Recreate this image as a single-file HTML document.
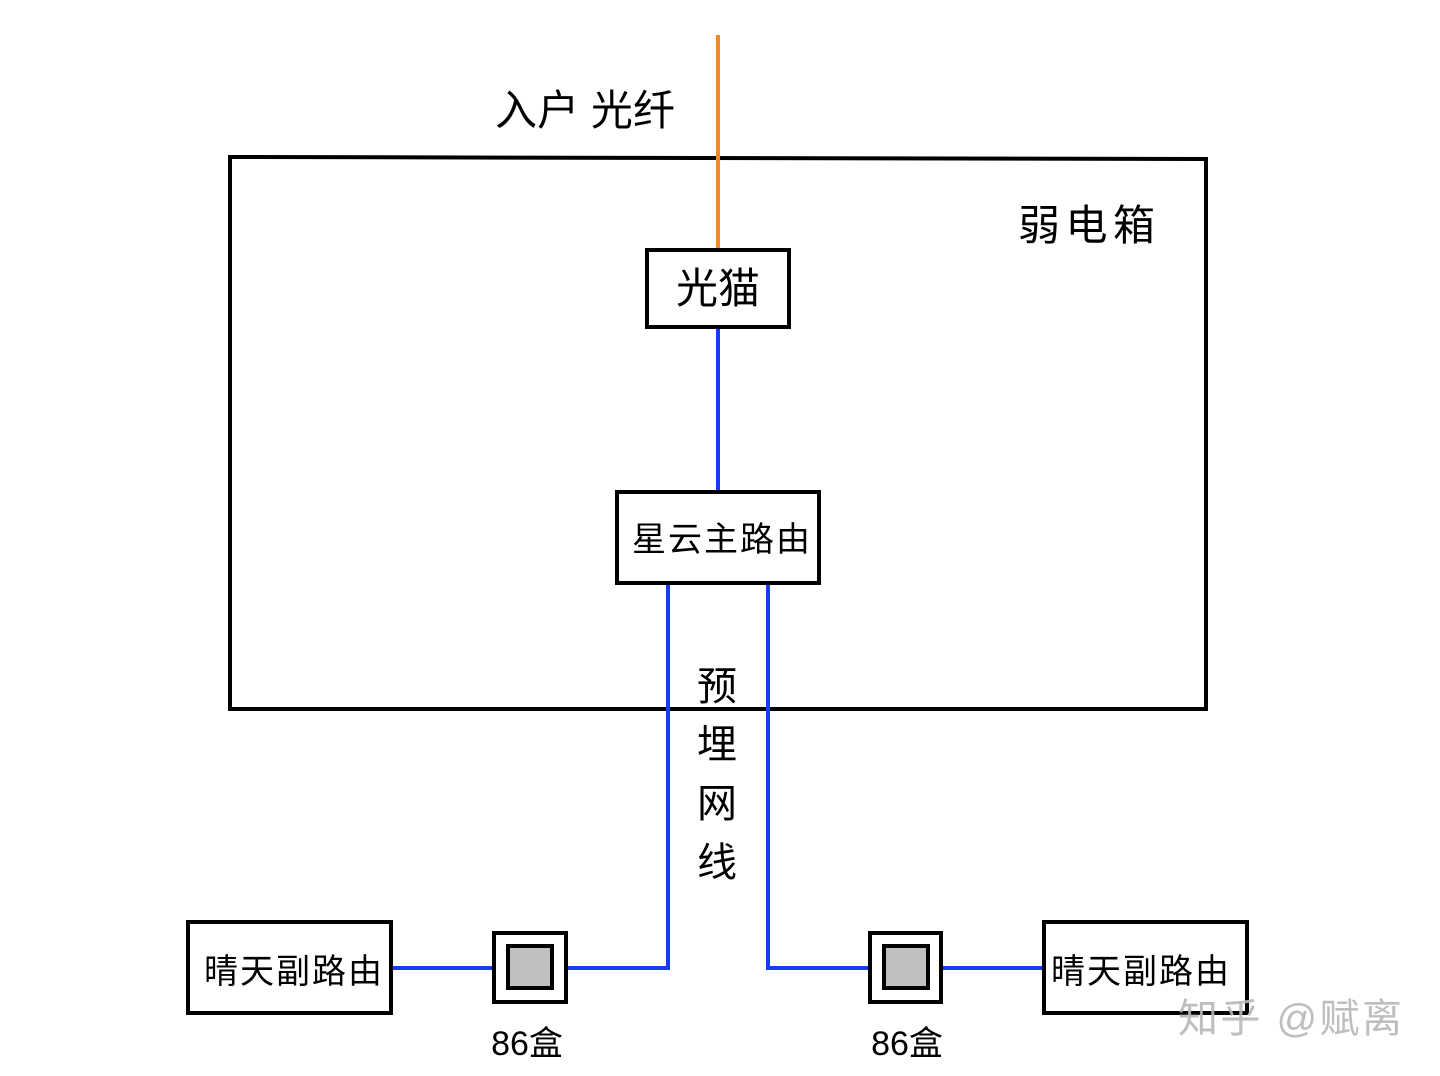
<!DOCTYPE html>
<html><head><meta charset="utf-8"><style>
html,body{margin:0;padding:0;background:#fff;width:1440px;height:1076px;overflow:hidden}
text{font-family:"Liberation Sans","Noto Sans CJK SC",sans-serif;fill:#000}
</style></head><body>
<svg width="1440" height="1076" xmlns="http://www.w3.org/2000/svg">
<rect x="0" y="0" width="1440" height="1076" fill="#fff"/>
<polygon points="230,157 1206,159 1206,709 230,709" fill="none" stroke="#000" stroke-width="4"/>
<line x1="718" y1="35" x2="718" y2="250" stroke="#f08a24" stroke-width="4"/>
<line x1="718" y1="327" x2="718" y2="492" stroke="#1a3cf0" stroke-width="4"/>
<polyline points="668,583 668,968 567,968" fill="none" stroke="#1a3cf0" stroke-width="4"/>
<polyline points="768,583 768,968 870,968" fill="none" stroke="#1a3cf0" stroke-width="4"/>
<line x1="391" y1="968" x2="494" y2="968" stroke="#1a3cf0" stroke-width="4"/>
<line x1="941" y1="968" x2="1044" y2="968" stroke="#1a3cf0" stroke-width="4"/>
<rect x="647" y="250" width="142" height="77" fill="#fff" stroke="#000" stroke-width="4"/>
<rect x="617" y="492" width="202" height="91" fill="#fff" stroke="#000" stroke-width="4"/>
<rect x="188" y="922" width="203" height="91" fill="#fff" stroke="#000" stroke-width="4"/>
<rect x="1044" y="922" width="203" height="91" fill="#fff" stroke="#000" stroke-width="4"/>
<rect x="494" y="933" width="72" height="69" fill="#fff" stroke="#000" stroke-width="4"/>
<rect x="508" y="946" width="44" height="42" fill="#c0c0c0" stroke="#000" stroke-width="4"/>
<rect x="870" y="933" width="71" height="69" fill="#fff" stroke="#000" stroke-width="4"/>
<rect x="884" y="946" width="44" height="42" fill="#c0c0c0" stroke="#000" stroke-width="4"/>
<text x="495" y="125" font-size="42" textLength="180" lengthAdjust="spacing">入户 光纤</text>
<text x="1018" y="240" font-size="42" textLength="137" lengthAdjust="spacing">弱电箱</text>
<text x="718" y="303" font-size="42" text-anchor="middle">光猫</text>
<text x="722" y="551" font-size="34" text-anchor="middle" letter-spacing="2">星云主路由</text>
<text x="717" y="700" font-size="40" text-anchor="middle">预</text>
<text x="717" y="758" font-size="40" text-anchor="middle">埋</text>
<text x="717" y="817" font-size="40" text-anchor="middle">网</text>
<text x="717" y="876" font-size="40" text-anchor="middle">线</text>
<text x="294" y="983" font-size="34" text-anchor="middle" letter-spacing="2">晴天副路由</text>
<text x="1141" y="983" font-size="34" text-anchor="middle" letter-spacing="2">晴天副路由</text>
<text x="527" y="1055" font-size="34" text-anchor="middle">86盒</text>
<text x="907" y="1055" font-size="34" text-anchor="middle">86盒</text>
<text x="1178" y="1032" font-size="40" textLength="224" lengthAdjust="spacing" style="fill:#b8b8b8" opacity="0.9">知乎 @赋离</text>
</svg>
</body></html>
